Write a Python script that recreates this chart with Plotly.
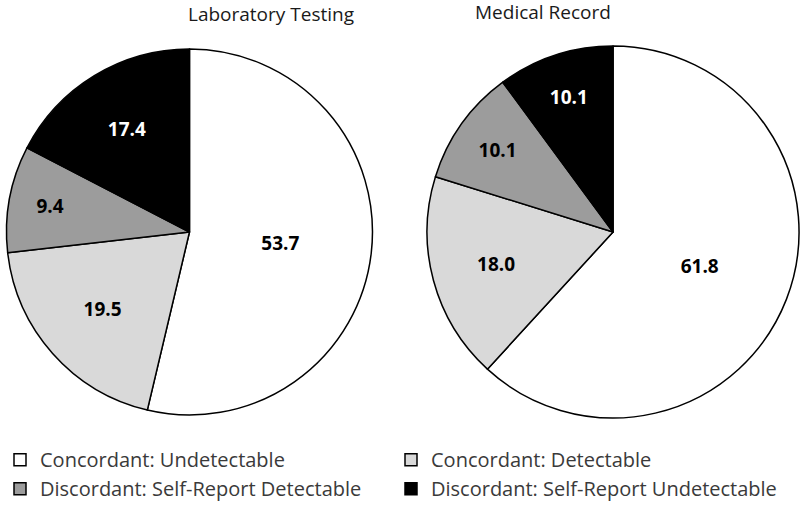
import plotly.graph_objects as go

# カテゴリと値
categories = [
    "Concordant: Undetectable",
    "Concordant: Detectable",
    "Discordant: Self-Report Detectable",
    "Discordant: Self-Report Undetectable",
]
lab_values = [53.7, 19.5, 9.4, 17.4]
med_values = [61.8, 18.0, 10.1, 10.1]
titles = ["Laboratory Testing", "Medical Record"]

slice_colors = ["#ffffff", "#d9d9d9", "#9c9c9c", "#000000"]
text_colors = ["#000000", "#000000", "#000000", "#ffffff"]
FONT = "Open Sans, DejaVu Sans, sans-serif"


def make_pie(values, domain_x, domain_y, showlegend):
    return go.Pie(
        labels=categories,
        values=values,
        sort=False,
        direction="clockwise",
        rotation=0,
        domain=dict(x=domain_x, y=domain_y),
        marker=dict(colors=slice_colors, line=dict(color="#000000", width=1.5)),
        texttemplate="<b>%{value:.1f}</b>",
        textposition="inside",
        insidetextorientation="horizontal",
        textfont=dict(family=FONT, size=19, color=text_colors),
        hoverinfo="skip",
        showlegend=showlegend,
    )


fig = go.Figure()
fig.add_trace(make_pie(lab_values, [0.0081, 0.4656], [0.1863, 0.9039], True))
fig.add_trace(make_pie(med_values, [0.5338, 0.9988], [0.1804, 0.9098], False))

for x, y, t in zip([0.2331, 0.766], [0.972, 0.976], titles):
    fig.add_annotation(
        x=x, y=y, xref="paper", yref="paper", yanchor="middle",
        text=t, showarrow=False, font=dict(family=FONT, size=19, color="#1a1a1a"),
    )

fig.update_layout(
    width=800,
    height=510,
    margin=dict(l=0, r=0, t=0, b=0, autoexpand=False),
    paper_bgcolor="white",
    font=dict(family=FONT, color="#333333"),
    legend=dict(
        orientation="h",
        x=0,
        y=0.137,
        yanchor="top",
        entrywidth=346,
        entrywidthmode="pixels",
        font=dict(family=FONT, size=20, color="#3a3a3a"),
        traceorder="normal",
    ),
)

fig.write_html(
    "out.html",
    config={"displayModeBar": False},
    post_script="document.body.style.margin='0';",
)
